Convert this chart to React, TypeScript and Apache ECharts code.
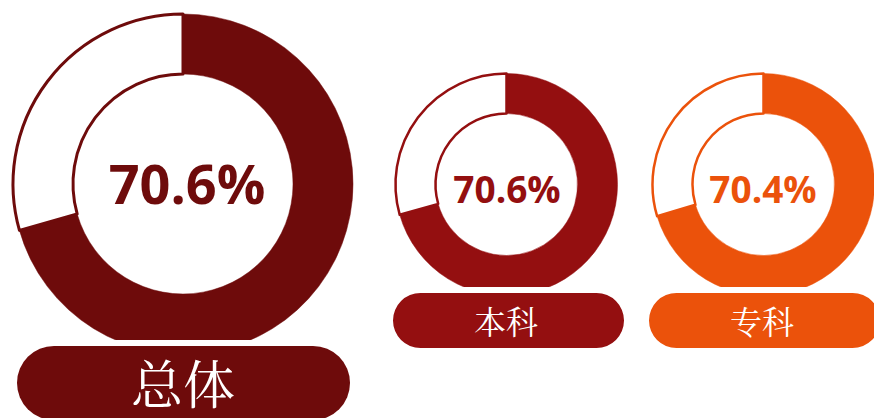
import React, { useEffect, useRef } from "react";
import * as echarts from "echarts";

const groups = ["总体", "本科", "专科"];
const rates = [70.6, 70.6, 70.4];
const colors = ["#6E0B0B", "#940F10", "#EB520B"];

// layout (px)
const centers = [
  [183, 184],
  [506.5, 184.5],
  [763.5, 184.5],
];
const radii = [
  [110, 170],
  [71, 111],
  [71, 111],
];
const borderW = [3, 2.5, 2.5];
const pctFont = [54, 37, 37];
const pctPos = [
  [187, 183],
  [507, 188],
  [763, 188],
];
const pills = [
  { x: 17, y: 346, w: 333, h: 74, font: 52, tx: 183, ty: 381 },
  { x: 393, y: 293, w: 231, h: 55, font: 32, tx: 506, ty: 320 },
  { x: 649, y: 293, w: 231, h: 55, font: 32, tx: 762, ty: 320 },
];

export default function App() {
  const ref = useRef<HTMLDivElement>(null);
  useEffect(() => {
    document.body.style.margin = "0";
    const chart = echarts.init(ref.current!, null, { renderer: "svg" });
    const series = groups.map((g, i) => ({
      type: "pie",
      name: g,
      center: centers[i],
      radius: radii[i],
      startAngle: 90,
      clockwise: true,
      silent: true,
      label: { show: false },
      labelLine: { show: false },
      emphasis: { disabled: true },
      data: [
        {
          name: g,
          value: rates[i],
          itemStyle: { color: colors[i], borderColor: colors[i], borderWidth: 0.5 },
        },
        {
          name: "其他",
          value: +(100 - rates[i]).toFixed(1),
          itemStyle: { color: "#ffffff", borderColor: colors[i], borderWidth: borderW[i] },
        },
      ],
    }));
    const graphic: any[] = [];
    groups.forEach((g, i) => {
      graphic.push({
        type: "text",
        x: pctPos[i][0],
        y: pctPos[i][1],
        z: 100,
        style: {
          text: rates[i].toFixed(1) + "%",
          fill: colors[i],
          font: `bold ${pctFont[i]}px "Open Sans", "Noto Sans", sans-serif`,
          align: "center",
          verticalAlign: "middle",
        },
      });
      const p = pills[i];
      const gap = 6;
      graphic.push({
        type: "rect",
        z: 100,
        shape: { x: p.x - gap, y: p.y - gap, width: p.w + 2 * gap, height: p.h + 2 * gap, r: (p.h + 2 * gap) / 2 },
        style: { fill: "#ffffff" },
      });
      graphic.push({
        type: "rect",
        z: 101,
        shape: { x: p.x, y: p.y, width: p.w, height: p.h, r: p.h / 2 },
        style: { fill: colors[i] },
      });
      graphic.push({
        type: "text",
        z: 102,
        x: p.tx,
        y: p.ty,
        style: {
          text: g,
          fill: "#ffffff",
          font: `${p.font}px "Noto Serif CJK SC", "Noto Sans CJK SC", serif`,
          align: "center",
          verticalAlign: "middle",
        },
      });
    });
    chart.setOption({
      animation: false,
      backgroundColor: "#ffffff",
      series,
      graphic,
    });
    return () => chart.dispose();
  }, []);
  return <div ref={ref} style={{ width: 874, height: 418 }} />;
}
